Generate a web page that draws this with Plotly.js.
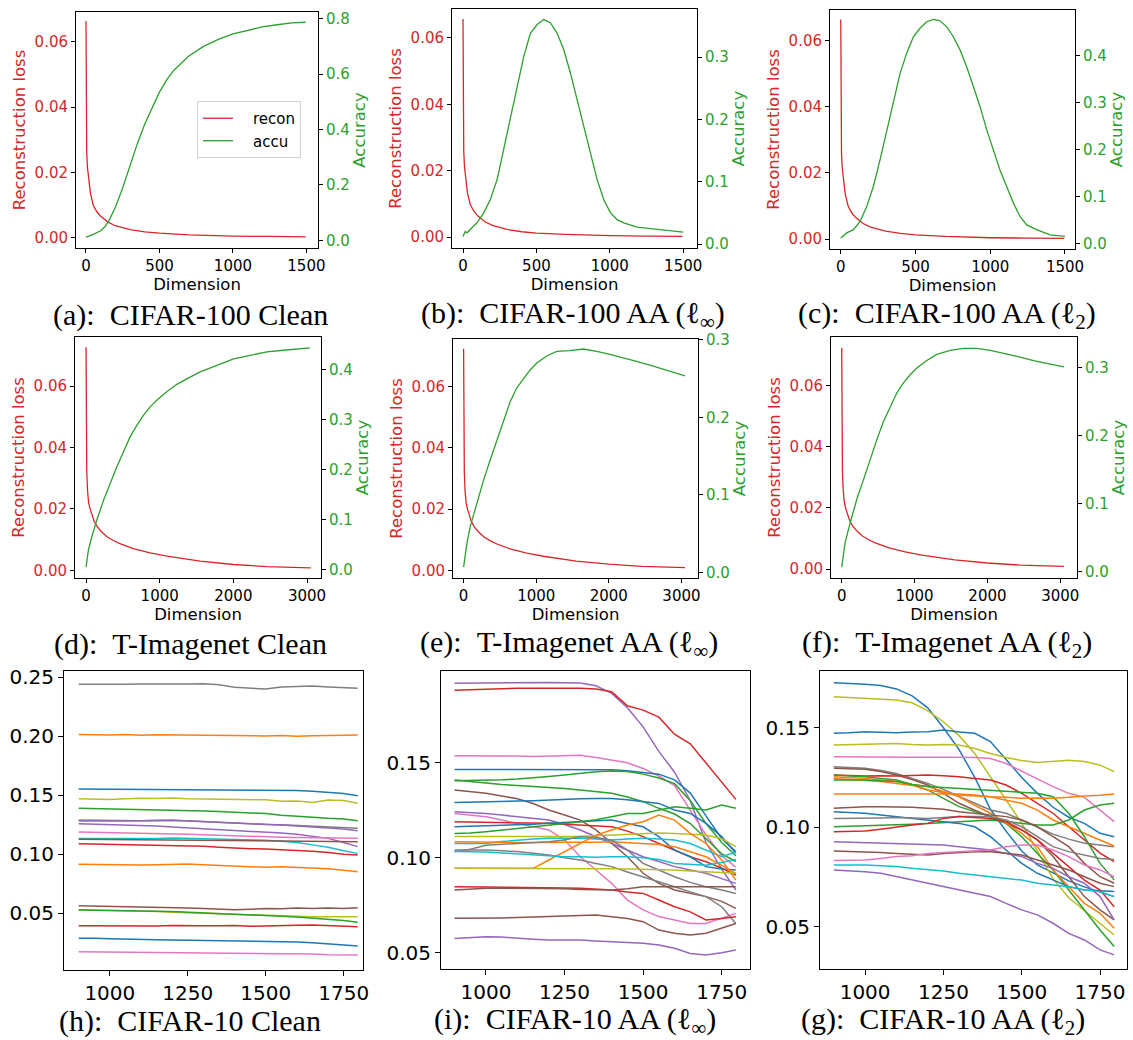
<!DOCTYPE html>
<html><head><meta charset="utf-8">
<script src="https://cdn.plot.ly/plotly-3.0.1.min.js"></script>
<style>html,body{margin:0;padding:0;background:#fff}</style>
</head><body><div id="chart" style="width:1133px;height:1040px"></div>
<script>
// ---------------- DATA ----------------
// CIFAR-100 panels (a,b,c): reconstruction loss and accuracy vs dimension
const reconX_c100 = [0,2,5,10,20,30,50,75,100,150,200,300,400,500,700,1000,1250,1495];
const recon_a = [0.0664,0.034,0.026,0.0215,0.0165,0.0136,0.0098,0.0078,0.0065,0.0047,0.0036,0.0024,0.0017,0.0013,0.0008,0.0004,0.0003,0.0002];
const recon_b = [0.0657,0.034,0.026,0.0213,0.0163,0.0134,0.0097,0.0077,0.0064,0.0046,0.0035,0.0023,0.0016,0.0012,0.0008,0.0004,0.0003,0.0002];
const recon_c = [0.0664,0.035,0.026,0.0215,0.0165,0.0136,0.0099,0.0078,0.0065,0.0047,0.0036,0.0024,0.0017,0.0013,0.0008,0.0004,0.0003,0.0002];

const accuX_a = [0,50,100,130,160,200,250,300,350,400,450,500,550,600,650,700,800,900,1000,1100,1200,1300,1400,1495];
const accu_a  = [0.012,0.022,0.035,0.05,0.075,0.12,0.19,0.27,0.35,0.42,0.48,0.535,0.58,0.615,0.64,0.665,0.70,0.725,0.745,0.758,0.77,0.778,0.785,0.787];

const accuX_b = [0,15,27,50,95,141,186,232,277,323,368,414,459,505,550,595,641,686,732,777,823,868,914,959,1005,1050,1095,1186,1300,1414,1500];
const accu_b  = [0.012,0.02,0.018,0.023,0.034,0.05,0.071,0.103,0.151,0.2,0.248,0.301,0.338,0.352,0.36,0.355,0.338,0.312,0.274,0.232,0.189,0.146,0.103,0.071,0.05,0.039,0.034,0.027,0.024,0.022,0.019];

const accuX_c = [0,40,85,129,174,218,263,308,352,397,441,486,530,575,620,664,709,753,798,842,887,932,976,1021,1065,1110,1155,1199,1244,1310,1400,1500];
const accu_c  = [0.012,0.023,0.03,0.0475,0.079,0.122,0.179,0.243,0.306,0.363,0.406,0.441,0.459,0.473,0.478,0.475,0.462,0.441,0.413,0.377,0.335,0.292,0.243,0.2,0.157,0.122,0.0865,0.058,0.04,0.03,0.019,0.0156];

// T-Imagenet panels (d,e,f)
const reconX_tin = [0,2,5,10,20,35,55,80,110,150,200,280,370,460,640,870,1100,1550,2000,2450,3050];
const recon_d = [0.0727,0.052,0.040,0.032,0.026,0.022,0.0200,0.0178,0.0160,0.0143,0.0128,0.0110,0.0097,0.0087,0.0071,0.0057,0.0046,0.0030,0.0019,0.0012,0.0008];
const recon_e = [0.0723,0.051,0.040,0.032,0.026,0.022,0.0198,0.0176,0.0158,0.0141,0.0127,0.0109,0.0096,0.0086,0.0070,0.0056,0.0046,0.0030,0.0020,0.0013,0.0009];
const recon_f = [0.0722,0.051,0.040,0.032,0.026,0.022,0.0198,0.0176,0.0158,0.0141,0.0127,0.0109,0.0096,0.0086,0.0070,0.0056,0.0046,0.0030,0.0020,0.0013,0.0009];

const accuX_d = [0,32,77,145,236,326,417,507,598,689,779,870,960,1096,1232,1368,1550,1776,2003,2229,2456,2682,2909,3040];
const accu_d  = [0.005,0.039,0.065,0.0985,0.138,0.172,0.205,0.235,0.265,0.288,0.308,0.325,0.338,0.355,0.37,0.381,0.395,0.408,0.421,0.428,0.435,0.438,0.441,0.4426];

const accuX_e = [0,46,92,183,275,366,458,550,641,733,824,916,1008,1145,1283,1466,1649,1832,2016,2199,2382,2611,2840,3050];
const accu_e  = [0.0069,0.0378,0.0593,0.0894,0.119,0.145,0.171,0.197,0.22,0.238,0.25,0.261,0.27,0.279,0.285,0.286,0.288,0.285,0.281,0.276,0.272,0.266,0.26,0.2535];

const accuX_f = [0,46,115,206,298,389,481,573,664,756,847,939,1031,1168,1306,1489,1672,1855,2039,2222,2405,2634,2863,3050];
const accu_f  = [0.0064,0.042,0.0713,0.106,0.135,0.165,0.194,0.221,0.243,0.263,0.278,0.29,0.3,0.311,0.32,0.326,0.329,0.329,0.326,0.321,0.317,0.311,0.306,0.3015];

// CIFAR-10 panels (h,i,g): shared dimension samples
const dimX = [900,950,1000,1050,1100,1150,1200,1250,1300,1350,1400,1450,1500,1550,1600,1650,1700,1750,1795];

// (h) CIFAR-10 Clean
const hGray1   = [0.2440,0.2438,0.2442,0.2440,0.2443,0.2441,0.2440,0.2442,0.2445,0.2436,0.2415,0.2410,0.2400,0.2418,0.2420,0.2425,0.2418,0.2412,0.2407];
const hOrange1 = [0.2015,0.2012,0.2010,0.2014,0.2008,0.2012,0.2010,0.2008,0.2010,0.2006,0.2004,0.2000,0.2003,0.2006,0.2000,0.2004,0.2003,0.2008,0.2011];
const hBlue1   = [0.1553,0.1552,0.1550,0.1551,0.1549,0.1548,0.1548,0.1547,0.1546,0.1547,0.1548,0.1546,0.1545,0.1543,0.1540,0.1535,0.1525,0.1515,0.1497];
const hOlive1  = [0.1470,0.1468,0.1465,0.1470,0.1475,0.1472,0.1478,0.1470,0.1468,0.1465,0.1466,0.1463,0.1462,0.1450,0.1452,0.1440,0.1460,0.1455,0.1432];
const hGreen1  = [0.1390,0.1388,0.1385,0.1382,0.1378,0.1375,0.1372,0.1370,0.1368,0.1362,0.1355,0.1350,0.1345,0.1330,0.1320,0.1310,0.1305,0.1300,0.1285];
const hGray2   = [0.1290,0.1288,0.1285,0.1283,0.1285,0.1287,0.1288,0.1285,0.1278,0.1270,0.1262,0.1258,0.1252,0.1250,0.1245,0.1238,0.1232,0.1225,0.1220];
const hPurple1 = [0.1282,0.1280,0.1280,0.1282,0.1285,0.1288,0.1290,0.1283,0.1278,0.1272,0.1265,0.1260,0.1255,0.1248,0.1240,0.1232,0.1225,0.1215,0.1200];
const hPurple2 = [0.1260,0.1257,0.1255,0.1250,0.1245,0.1240,0.1232,0.1225,0.1218,0.1212,0.1205,0.1198,0.1190,0.1180,0.1170,0.1155,0.1135,0.1100,0.1065];
const hPink1   = [0.1190,0.1188,0.1185,0.1183,0.1180,0.1178,0.1175,0.1170,0.1165,0.1160,0.1155,0.1150,0.1147,0.1145,0.1142,0.1140,0.1138,0.1137,0.1136];
const hCyan1   = [0.1135,0.1135,0.1133,0.1130,0.1132,0.1135,0.1138,0.1135,0.1132,0.1130,0.1128,0.1125,0.1120,0.1110,0.1100,0.1080,0.1060,0.1030,0.1008];
const hBrown1  = [0.1128,0.1127,0.1126,0.1125,0.1125,0.1124,0.1123,0.1122,0.1122,0.1120,0.1120,0.1119,0.1118,0.1117,0.1116,0.1115,0.1113,0.1110,0.1107];
const hRed1    = [0.1090,0.1088,0.1085,0.1082,0.1078,0.1075,0.1072,0.1070,0.1068,0.1060,0.1052,0.1048,0.1045,0.1040,0.1035,0.1025,0.1015,0.1000,0.0994];
const hOrange2 = [0.0915,0.0913,0.0912,0.0914,0.0910,0.0912,0.0915,0.0918,0.0912,0.0908,0.0900,0.0895,0.0890,0.0895,0.0890,0.0885,0.0878,0.0865,0.0853];
const hBrown2  = [0.0565,0.0563,0.0560,0.0555,0.0552,0.0550,0.0548,0.0545,0.0540,0.0535,0.0530,0.0535,0.0540,0.0538,0.0545,0.0540,0.0545,0.0540,0.0548];
const hOlive2  = [0.0530,0.0528,0.0525,0.0522,0.0520,0.0515,0.0510,0.0505,0.0500,0.0495,0.0490,0.0488,0.0485,0.0480,0.0475,0.0472,0.0470,0.0468,0.0472];
const hGreen2  = [0.0528,0.0527,0.0525,0.0522,0.0520,0.0518,0.0515,0.0510,0.0505,0.0500,0.0495,0.0490,0.0482,0.0475,0.0468,0.0460,0.0450,0.0440,0.0424];
const hRed2    = [0.0395,0.0394,0.0396,0.0394,0.0395,0.0393,0.0396,0.0392,0.0394,0.0395,0.0396,0.0390,0.0395,0.0398,0.0400,0.0402,0.0395,0.0390,0.0387];
const hBlue2   = [0.0288,0.0290,0.0285,0.0280,0.0278,0.0276,0.0275,0.0273,0.0270,0.0270,0.0268,0.0266,0.0265,0.0262,0.0258,0.0250,0.0242,0.0235,0.0223];
const hPink2   = [0.0175,0.0174,0.0172,0.0170,0.0170,0.0168,0.0167,0.0166,0.0166,0.0165,0.0165,0.0163,0.0162,0.0160,0.0158,0.0155,0.0150,0.0150,0.0147];

// (i) CIFAR-10 AA (l_inf)
const iPurple1 = [0.1918,0.1919,0.1920,0.1919,0.1921,0.1922,0.1923,0.1921,0.1920,0.1905,0.1865,0.1790,0.1689,0.1560,0.1450,0.1300,0.1080,0.0940,0.0830];
const iRed1    = [0.1882,0.1885,0.1888,0.1890,0.1892,0.1892,0.1893,0.1893,0.1892,0.1888,0.1874,0.1800,0.1777,0.1740,0.1650,0.1600,0.1500,0.1400,0.1307];
const iPink1   = [0.1537,0.1537,0.1536,0.1535,0.1535,0.1533,0.1535,0.1537,0.1540,0.1528,0.1514,0.1500,0.1470,0.1430,0.1380,0.1250,0.1120,0.1010,0.0950];
const iBlue1   = [0.1465,0.1465,0.1464,0.1465,0.1464,0.1464,0.1465,0.1464,0.1463,0.1464,0.1463,0.1458,0.1450,0.1440,0.1410,0.1340,0.1220,0.1100,0.1032];
const iGreen1  = [0.1405,0.1406,0.1408,0.1410,0.1414,0.1420,0.1428,0.1436,0.1444,0.1452,0.1456,0.1454,0.1440,0.1420,0.1390,0.1300,0.1180,0.1080,0.1010];
const iGreen2  = [0.1409,0.1400,0.1392,0.1385,0.1380,0.1376,0.1372,0.1365,0.1356,0.1348,0.1339,0.1320,0.1295,0.1260,0.1230,0.1180,0.1100,0.1020,0.0980];
const iBrown1  = [0.1356,0.1348,0.1339,0.1325,0.1310,0.1285,0.1251,0.1225,0.1198,0.1146,0.1075,0.1005,0.0918,0.0865,0.0830,0.0812,0.0795,0.0770,0.0733];
const iBlue2   = [0.1291,0.1292,0.1294,0.1296,0.1298,0.1300,0.1304,0.1306,0.1310,0.1312,0.1312,0.1305,0.1295,0.1286,0.1251,0.1233,0.1181,0.1111,0.1023];
const iPurple2 = [0.1242,0.1238,0.1233,0.1225,0.1216,0.1207,0.1198,0.1175,0.1146,0.1110,0.1075,0.1040,0.1005,0.0980,0.0953,0.0935,0.0918,0.0890,0.0865];
const iPink2   = [0.1233,0.1225,0.1216,0.1198,0.1181,0.1165,0.1146,0.1093,0.1005,0.0935,0.0865,0.0777,0.0725,0.0690,0.0672,0.0654,0.0654,0.0680,0.0707];
const iRed2    = [0.1189,0.1188,0.1187,0.1186,0.1185,0.1183,0.1181,0.1176,0.1172,0.1168,0.1163,0.1140,0.1111,0.1075,0.1040,0.1005,0.0979,0.0945,0.0909];
const iBlue3   = [0.1163,0.1165,0.1167,0.1170,0.1172,0.1176,0.1181,0.1185,0.1189,0.1194,0.1198,0.1180,0.1163,0.1111,0.1040,0.1005,0.0953,0.0940,0.0935];
const iGreen3  = [0.1128,0.1130,0.1137,0.1145,0.1154,0.1163,0.1172,0.1180,0.1189,0.1200,0.1216,0.1233,0.1233,0.1251,0.1268,0.1260,0.1251,0.1277,0.1260];
const iOlive1  = [0.1111,0.1111,0.1110,0.1111,0.1112,0.1111,0.1110,0.1111,0.1111,0.1115,0.1119,0.1124,0.1128,0.1130,0.1128,0.1125,0.1119,0.1100,0.1058];
const iCyan1   = [0.1075,0.1075,0.1075,0.1085,0.1093,0.1098,0.1102,0.1102,0.1102,0.1098,0.1093,0.1098,0.1102,0.1098,0.1093,0.1075,0.1040,0.1005,0.1030];
const iOrange1 = [0.1084,0.1082,0.1080,0.1081,0.1080,0.1079,0.1080,0.1081,0.1080,0.1082,0.1084,0.1080,0.1075,0.1070,0.1058,0.1030,0.1005,0.0960,0.0918];
const iOrange2 = [0.0944,0.0944,0.0945,0.0944,0.0946,0.0944,0.0988,0.1032,0.1075,0.1119,0.1146,0.1172,0.1189,0.1225,0.1198,0.1128,0.1075,0.0988,0.0882];
const iGray1   = [0.1040,0.1040,0.1040,0.1036,0.1032,0.1023,0.1014,0.1000,0.0988,0.0970,0.0953,0.0925,0.0900,0.0873,0.0847,0.0820,0.0795,0.0742,0.0654];
const iGray2   = [0.1032,0.1045,0.1066,0.1070,0.1075,0.1080,0.1084,0.1093,0.1111,0.1105,0.1093,0.1040,0.0970,0.0935,0.0900,0.0870,0.0847,0.0830,0.0812];
const iCyan2   = [0.1032,0.1032,0.1030,0.1025,0.1020,0.1015,0.1010,0.1005,0.1005,0.1003,0.1005,0.1005,0.1000,0.0990,0.0970,0.0965,0.0960,0.0975,0.0990];
const iOlive2  = [0.0944,0.0944,0.0945,0.0944,0.0943,0.0944,0.0945,0.0944,0.0943,0.0942,0.0942,0.0941,0.0940,0.0938,0.0935,0.0930,0.0925,0.0920,0.0918];
const iRed3    = [0.0847,0.0845,0.0846,0.0845,0.0843,0.0842,0.0842,0.0840,0.0839,0.0835,0.0830,0.0820,0.0812,0.0777,0.0742,0.0715,0.0672,0.0680,0.0689];
const iBrown2  = [0.0830,0.0835,0.0839,0.0839,0.0838,0.0839,0.0839,0.0836,0.0833,0.0832,0.0830,0.0836,0.0847,0.0847,0.0847,0.0847,0.0847,0.0847,0.0847];
const iBrown3  = [0.0681,0.0681,0.0681,0.0683,0.0685,0.0687,0.0689,0.0691,0.0693,0.0698,0.0689,0.0680,0.0663,0.0619,0.0602,0.0593,0.0602,0.0628,0.0654];
const iPurple3 = [0.0575,0.0580,0.0584,0.0582,0.0575,0.0571,0.0567,0.0567,0.0567,0.0562,0.0558,0.0555,0.0549,0.0540,0.0523,0.0496,0.0488,0.0500,0.0514];

// (g) CIFAR-10 AA (l_2)
const gBlue1   = [0.1726,0.1724,0.1719,0.1712,0.1695,0.1660,0.1600,0.1500,0.1390,0.1250,0.1090,0.0980,0.0880,0.0810,0.0770,0.0730,0.0700,0.0675,0.0651];
const gOlive1  = [0.1656,0.1652,0.1647,0.1643,0.1639,0.1625,0.1585,0.1530,0.1460,0.1370,0.1255,0.1140,0.1020,0.0880,0.0740,0.0645,0.0580,0.0517,0.0458];
const gBlue2   = [0.1472,0.1474,0.1480,0.1478,0.1475,0.1478,0.1480,0.1488,0.1478,0.1472,0.1430,0.1340,0.1250,0.1170,0.1100,0.1050,0.1019,0.0969,0.0952];
const gOlive2  = [0.1413,0.1415,0.1418,0.1420,0.1420,0.1415,0.1413,0.1415,0.1413,0.1395,0.1370,0.1350,0.1335,0.1325,0.1330,0.1336,0.1330,0.1312,0.1279];
const gPink1   = [0.1354,0.1353,0.1352,0.1353,0.1352,0.1351,0.1352,0.1353,0.1351,0.1350,0.1345,0.1320,0.1280,0.1240,0.1204,0.1170,0.1150,0.1086,0.1028];
const gGray1   = [0.1304,0.1300,0.1296,0.1285,0.1270,0.1245,0.1220,0.1190,0.1153,0.1120,0.1086,0.1070,0.1036,0.1000,0.0965,0.0940,0.0919,0.0910,0.0902];
const gBrown1  = [0.1296,0.1294,0.1291,0.1280,0.1262,0.1240,0.1212,0.1170,0.1120,0.1085,0.1053,0.1020,0.0986,0.0936,0.0852,0.0751,0.0651,0.0584,0.0534];
const gRed1    = [0.1262,0.1258,0.1257,0.1258,0.1257,0.1260,0.1262,0.1258,0.1254,0.1245,0.1237,0.1212,0.1170,0.1120,0.1070,0.1002,0.0936,0.0870,0.0827];
const gGreen1  = [0.1262,0.1258,0.1254,0.1245,0.1237,0.1215,0.1187,0.1145,0.1103,0.1078,0.1053,0.1019,0.0952,0.0868,0.0785,0.0684,0.0584,0.0483,0.0400];
const gOrange1 = [0.1254,0.1250,0.1245,0.1237,0.1229,0.1215,0.1204,0.1180,0.1153,0.1110,0.1070,0.1020,0.0969,0.0902,0.0785,0.0701,0.0617,0.0567,0.0492];
const gOrange3 = [0.1245,0.1240,0.1237,0.1230,0.1220,0.1210,0.1187,0.1175,0.1162,0.1157,0.1153,0.1135,0.1120,0.1086,0.1036,0.1002,0.0969,0.0936,0.0905];
const gGreen2  = [0.1237,0.1237,0.1237,0.1233,0.1229,0.1215,0.1204,0.1200,0.1195,0.1190,0.1187,0.1180,0.1178,0.1170,0.1153,0.1070,0.0952,0.0818,0.0735];
const gGreen3  = [0.1002,0.1004,0.1006,0.1008,0.1011,0.1015,0.1019,0.1024,0.1028,0.1032,0.1036,0.1028,0.1019,0.1011,0.1011,0.1036,0.1086,0.1111,0.1120];
const gOrange2 = [0.1167,0.1167,0.1168,0.1167,0.1167,0.1166,0.1167,0.1167,0.1167,0.1162,0.1153,0.1150,0.1145,0.1147,0.1145,0.1150,0.1157,0.1160,0.1167];
const gBrown2  = [0.1095,0.1100,0.1103,0.1103,0.1103,0.1100,0.1095,0.1090,0.1078,0.1070,0.1061,0.1053,0.1036,0.1002,0.0952,0.0902,0.0818,0.0751,0.0718];
const gBlue3   = [0.1078,0.1075,0.1070,0.1061,0.1053,0.1045,0.1036,0.1028,0.1019,0.1002,0.0952,0.0885,0.0818,0.0768,0.0734,0.0701,0.0684,0.0680,0.0676];
const gGray2   = [0.1044,0.1044,0.1044,0.1046,0.1048,0.1046,0.1044,0.1048,0.1053,0.1053,0.1053,0.1036,0.1002,0.0952,0.0902,0.0877,0.0860,0.0843,0.0838];
const gRed2    = [0.0977,0.0979,0.0981,0.0990,0.1002,0.1011,0.1019,0.1044,0.1053,0.1050,0.1044,0.1028,0.0986,0.0936,0.0868,0.0802,0.0734,0.0684,0.0600];
const gPurple1 = [0.0927,0.0925,0.0922,0.0920,0.0919,0.0917,0.0915,0.0910,0.0902,0.0893,0.0885,0.0868,0.0852,0.0818,0.0793,0.0751,0.0718,0.0651,0.0534];
const gBrown3  = [0.0880,0.0878,0.0877,0.0872,0.0868,0.0864,0.0860,0.0868,0.0872,0.0877,0.0877,0.0870,0.0860,0.0835,0.0810,0.0785,0.0751,0.0718,0.0701];
const gPink2   = [0.0832,0.0833,0.0835,0.0843,0.0852,0.0856,0.0868,0.0872,0.0877,0.0880,0.0885,0.0902,0.0910,0.0910,0.0885,0.0852,0.0810,0.0785,0.0751];
const gCyan1   = [0.0810,0.0810,0.0810,0.0806,0.0802,0.0793,0.0785,0.0780,0.0768,0.0760,0.0751,0.0742,0.0734,0.0718,0.0709,0.0701,0.0684,0.0676,0.0651];
const gPurple2 = [0.0785,0.0782,0.0776,0.0768,0.0751,0.0735,0.0718,0.0700,0.0684,0.0667,0.0651,0.0617,0.0584,0.0559,0.0517,0.0466,0.0433,0.0383,0.0358];

// Tick labels / captions
const xTicksC100 = [0,500,1000,1500];
const xTicksTin  = [0,1000,2000,3000];
const xTicksC10  = [1000,1250,1500,1750];
const captions = [
  "(a):\u2002CIFAR-100 Clean",
  "(b):\u2002CIFAR-100 AA (\u2113<sub>\u221e</sub>)",
  "(c):\u2002CIFAR-100 AA (\u2113<sub>2</sub>)",
  "(d):\u2002T-Imagenet Clean",
  "(e):\u2002T-Imagenet AA (\u2113<sub>\u221e</sub>)",
  "(f):\u2002T-Imagenet AA (\u2113<sub>2</sub>)",
  "(h):\u2002CIFAR-10 Clean",
  "(i):\u2002CIFAR-10 AA (\u2113<sub>\u221e</sub>)",
  "(g):\u2002CIFAR-10 AA (\u2113<sub>2</sub>)"
];

// ---------------- STYLE / LAYOUT ----------------
const W = 1133, H = 1040;
const C = {blue:'#1f77b4',orange:'#ff7f0e',green:'#2ca02c',red:'#d62728',purple:'#9467bd',
           brown:'#8c564b',pink:'#e377c2',gray:'#7f7f7f',olive:'#bcbd22',cyan:'#17becf'};
const RED = C.red, GREEN = C.green;

// plot boxes in pixels [left, top, right, bottom]
const boxes = [[76,12,318,248],[452,9,697,248],[830,10,1075,249],
               [75,337,321,578],[453,339,698,578],[831,337,1077,578],
               [64,671,363,970],[441,671,750,969],[820,671,1127,969]];
const xRanges = [[-68,1579],[-75,1594],[-72,1567],[-150,3190],[-146,3228],[-147,3229],[853,1812],[857,1840],[856,1836]];
const yLRanges = [[-0.00324,0.0692],[-0.0033,0.0687],[-0.003,0.0693],[-0.0025,0.076],[-0.0025,0.0755],[-0.0029,0.0758],[0.002,0.2553],[0.0414,0.1983],[0.0287,0.1785]];
const yRRanges = [[-0.0273,0.824],[-0.0064,0.377],[-0.0113,0.498],[-0.0168,0.4645],[-0.0072,0.3009],[-0.0097,0.3457]];
const yRdtick = [0.2,0.1,0.1,0.1,0.1,0.1];
const capPos = [[190,315],[573,315],[947,315],[190,644],[569,644],[947,644],[190,1021],[575,1021],[943,1021]];

const twinData = [
  [reconX_c100, recon_a, accuX_a, accu_a],
  [reconX_c100, recon_b, accuX_b, accu_b],
  [reconX_c100, recon_c, accuX_c, accu_c],
  [reconX_tin, recon_d, accuX_d, accu_d],
  [reconX_tin, recon_e, accuX_e, accu_e],
  [reconX_tin, recon_f, accuX_f, accu_f]
];
const multiData = [
  [[hGray1,C.gray],[hOrange1,C.orange],[hBlue1,C.blue],[hOlive1,C.olive],[hGreen1,C.green],[hGray2,C.gray],
   [hPurple1,C.purple],[hPurple2,C.purple],[hPink1,C.pink],[hCyan1,C.cyan],[hBrown1,C.brown],[hRed1,C.red],
   [hOrange2,C.orange],[hBrown2,C.brown],[hOlive2,C.olive],[hGreen2,C.green],[hRed2,C.red],[hBlue2,C.blue],[hPink2,C.pink]],
  [[iPurple1,C.purple],[iRed1,C.red],[iPink1,C.pink],[iBlue1,C.blue],[iGreen1,C.green],[iGreen2,C.green],
   [iBrown1,C.brown],[iBlue2,C.blue],[iPurple2,C.purple],[iPink2,C.pink],[iRed2,C.red],[iBlue3,C.blue],
   [iGreen3,C.green],[iOlive1,C.olive],[iCyan1,C.cyan],[iOrange1,C.orange],[iOrange2,C.orange],[iGray1,C.gray],
   [iGray2,C.gray],[iCyan2,C.cyan],[iOlive2,C.olive],[iRed3,C.red],[iBrown2,C.brown],[iBrown3,C.brown],[iPurple3,C.purple]],
  [[gBlue1,C.blue],[gOlive1,C.olive],[gBlue2,C.blue],[gOlive2,C.olive],[gPink1,C.pink],[gGray1,C.gray],
   [gBrown1,C.brown],[gRed1,C.red],[gGreen1,C.green],[gOrange1,C.orange],[gOrange3,C.orange],[gGreen2,C.green],
   [gGreen3,C.green],[gOrange2,C.orange],[gBrown2,C.brown],[gBlue3,C.blue],[gGray2,C.gray],[gRed2,C.red],
   [gPurple1,C.purple],[gBrown3,C.brown],[gPink2,C.pink],[gCyan1,C.cyan],[gPurple2,C.purple]]
];

const SANS = 'DejaVu Sans';
const traces = [];
const layout = {
  width: W, height: H, margin:{l:0,r:0,t:0,b:0},
  paper_bgcolor:'#fff', plot_bgcolor:'#fff',
  showlegend:true,
  legend:{x:197/W, y:1-101/H, xanchor:'left', yanchor:'top', bgcolor:'#fff',
          bordercolor:'#d0d0d0', borderwidth:1, font:{family:SANS,size:15,color:'#000'},
          tracegroupgap:4, itemwidth:30},
  annotations:[]
};

function axId(n, letter){ return n===1 ? letter : letter+n; }
function axKey(n, letter){ return n===1 ? letter+'axis' : letter+'axis'+n; }

for (let p=0; p<9; p++){
  const n = p+1;
  const [l,t,r,b] = boxes[p];
  const xa = axId(n,'x'), ya = axId(n,'y');
  const row3 = p>=6;
  const tickFont = {family:SANS, size: row3?20:15, color:'#000'};
  const xax = {
    domain:[l/W, r/W], anchor: ya, range: xRanges[p],
    showline:true, mirror:true, linecolor:'#000', linewidth:1,
    ticks:'outside', ticklen: row3?5:4, tickcolor:'#000', tickwidth:1,
    tickvals: row3 ? xTicksC10 : (p<3 ? xTicksC100 : xTicksTin),
    showgrid:false, zeroline:false, tickfont: tickFont
  };
  const yax = {
    domain:[1-b/H, 1-t/H], anchor: xa, range: yLRanges[p],
    showline:true, mirror: row3 ? true : false, linecolor:'#000', linewidth:1,
    ticks:'outside', ticklen: row3?5:4, tickcolor:'#000', tickwidth:1,
    tickformat:'.2f', dtick: row3?0.05:0.02, tick0:0,
    showgrid:false, zeroline:false,
    tickfont: row3 ? tickFont : {family:SANS,size:15,color:RED}
  };
  if (!row3){
    xax.title = {text:'Dimension', font:{family:SANS,size:16.5,color:'#000'}, standoff:2};
    yax.title = {text:'Reconstruction loss', font:{family:SANS,size:16.5,color:RED}, standoff:4};
  }
  layout[axKey(n,'x')] = xax;
  layout[axKey(n,'y')] = yax;
  if (!row3){
    const rn = 10+p;
    const yr = 'y'+rn;
    layout['yaxis'+rn] = {
      overlaying: ya, side:'right', anchor: xa, range: yRRanges[p],
      showline:true, linecolor:'#000', linewidth:1,
      ticks:'outside', ticklen:4, tickcolor:'#000', tickwidth:1,
      tickformat:'.1f', dtick: yRdtick[p], tick0:0,
      showgrid:false, zeroline:false,
      tickfont:{family:SANS,size:15,color:GREEN},
      title:{text:'Accuracy', font:{family:SANS,size:16.5,color:GREEN}, standoff:4}
    };
    const d = twinData[p];
    traces.push({type:'scatter', mode:'lines', x:d[0], y:d[1], xaxis:xa, yaxis:ya,
                 name:'\u2003recon', showlegend: p===0, line:{color:RED, width:1.3}});
    traces.push({type:'scatter', mode:'lines', x:d[2], y:d[3], xaxis:xa, yaxis:yr,
                 name:'\u2003accu', showlegend: p===0, line:{color:GREEN, width:1.3}});
  } else {
    multiData[p-6].forEach(([ys,col],k)=>{
      traces.push({type:'scatter', mode:'lines', x:dimX, y:ys, xaxis:xa, yaxis:ya,
                   showlegend:false, name:'s'+k, line:{color:col, width:1.5}});
    });
  }
  layout.annotations.push({
    xref:'paper', yref:'paper', x:capPos[p][0]/W, y:1-capPos[p][1]/H,
    xanchor:'center', yanchor:'middle', showarrow:false, text: captions[p],
    font:{family:'Liberation Serif', size:30, color:'#000'}
  });
}

Plotly.newPlot('chart', traces, layout, {staticPlot:true, displayModeBar:false});
</script>
</body></html>
